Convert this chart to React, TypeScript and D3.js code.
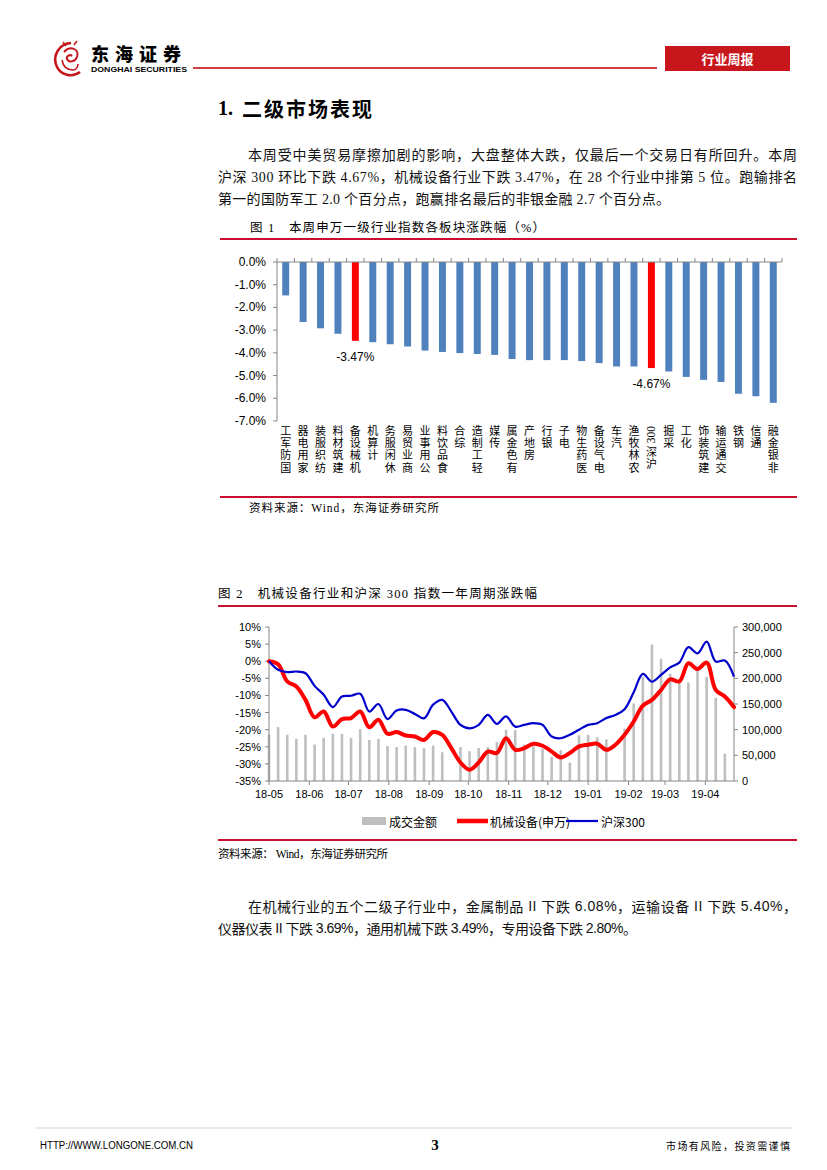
import React from 'react';
import * as d3 from 'd3';

// ---------------- Data: Figure 1 ----------------
const industries = [
  '国防军工', '家用电器', '纺织服装', '建筑材料', '机械设备', '计算机', '休闲服务', '商业贸易',
  '公用事业', '食品饮料', '综合', '轻工制造', '传媒', '有色金属', '房地产', '银行', '电子',
  '医药生物', '电气设备', '汽车', '农林牧渔', '沪深300', '采掘', '化工', '建筑装饰', '交通运输',
  '钢铁', '通信', '非银金融',
];
const industryChanges = [
  -1.47, -2.64, -2.92, -3.16, -3.47, -3.53, -3.62, -3.72, -3.9, -3.96, -4.01, -4.05, -4.09,
  -4.27, -4.32, -4.32, -4.32, -4.36, -4.45, -4.6, -4.6, -4.67, -4.82, -5.06, -5.19, -5.28,
  -5.8, -5.91, -6.2,
];
const highlightIndustries = ['机械设备', '沪深300'];
const pctTicks = [0, -1, -2, -3, -4, -5, -6, -7];

// ---------------- Data: Figure 2 (weekly, 2018-05-18 .. 2019-05-10) ----------------
const firstWeek = new Date(2018, 4, 18);
const turnover = [
  90, 105, 90, 82, 90, 71, 84, 92, 92, 84, 101, 80, 82, 68, 66, 69, 66, 64, 69, 56, null, 66,
  58, 64, 66, 76, 100, 99, 71, 68, 63, 47, 60, 36, 89, 90, 85, 81, null, 102, 151, 203, 266,
  238, 209, 193, 192, 219, 203, 162, 53, null,
].map((v) => (v == null ? null : v * 1000));
const machinery = [
  0, -0.9, -5.9, -7.4, -11.3, -16.4, -14.7, -19.1, -16.9, -16.6, -14.7, -19.3, -17.1, -21.2,
  -20.7, -21.7, -22.0, -23.0, -20.7, -21.5, -25.4, -29.6, -31.7, -29.6, -26.4, -26.8, -22.5,
  -25.9, -25.4, -24.1, -24.7, -26.4, -28.1, -26.8, -24.9, -24.4, -24.1, -25.9, -24.4, -21.5,
  -17.6, -13.0, -11.3, -8.4, -5.3, -5.9, -0.6, -2.3, -0.4, -8.4, -10.3, -13.4,
];
const csi300 = [
  0, -2.5, -3.2, -3.0, -3.5, -7.2, -9.8, -13.4, -10.3, -10.1, -9.5, -14.7, -12.5, -16.9, -14.4,
  -14.2, -15.4, -16.7, -12.7, -11.3, -14.7, -18.6, -19.6, -18.6, -15.7, -18.3, -16.1, -19.1,
  -18.6, -18.1, -18.6, -22.0, -22.5, -21.5, -20.0, -18.6, -18.1, -16.6, -15.7, -14.0, -9.1,
  -3.7, -6.0, -4.0, -1.8, -0.4, 4.1, 2.3, 5.7, -0.1, 0.2, -4.5,
];
const monthLabels = ['18-05', '18-06', '18-07', '18-08', '18-09', '18-10', '18-11', '18-12', '19-01', '19-02', '19-03', '19-04'];
const leftTicks = [10, 5, 0, -5, -10, -15, -20, -25, -30, -35];
const rightTicks = [0, 50000, 100000, 150000, 200000, 250000, 300000];
const legendNames = ['成交金额', '机械设备(申万)', '沪深300'];

// ---------------- Styles ----------------
const SANS = "'Liberation Sans', Arial, 'Noto Sans CJK SC', sans-serif";
const SERIF = "'Liberation Serif', 'Times New Roman', 'Noto Sans CJK SC', serif";
const CJK = "'Noto Sans CJK SC', 'Liberation Sans', sans-serif";
const RED_RULE = '#C8102E';
const BAR_BLUE = '#4F81BD';
const AXIS = '#868686';

function tokenize(s: string): string[] {
  const out: string[] = [];
  let buf = '';
  for (const ch of s) {
    if (/[\x00-\x7F]/.test(ch)) buf += ch;
    else {
      if (buf) { out.push(buf); buf = ''; }
      out.push(ch);
    }
  }
  if (buf) out.push(buf);
  return out;
}

function Figure1() {
  const x = d3.scaleBand<string>().domain(industries).range([277, 782]);
  const y = d3.scaleLinear().domain([-7, 0]).range([421, 262]);
  const bw = x.bandwidth() * 0.4;
  const labelTop = 425;
  return (
    <g>
      {industries.map((c, i) => {
        const v = industryChanges[i];
        const hi = highlightIndustries.includes(c);
        return (
          <rect key={c} x={x(c)! + (x.bandwidth() - bw) / 2} y={y(0)} width={bw} height={y(v) - y(0)}
            fill={hi ? '#FF0000' : BAR_BLUE} />
        );
      })}
      {industries.map((c, i) => highlightIndustries.includes(c) ? (
        <text key={'l' + c} x={x(c)! + x.bandwidth() / 2} y={y(industryChanges[i]) + 16} fontFamily={SANS}
          fontSize={12} textAnchor="middle" dominantBaseline="central">{industryChanges[i].toFixed(2)}%</text>
      ) : null)}
      <line x1={277} x2={277} y1={262} y2={421} stroke={AXIS} strokeWidth={1} />
      {pctTicks.map((t) => (
        <g key={t}>
          <line x1={273} x2={277} y1={y(t)} y2={y(t)} stroke={AXIS} />
          <text x={266} y={y(t)} fontFamily={SANS} fontSize={12} textAnchor="end" dominantBaseline="central">
            {t.toFixed(1)}%
          </text>
        </g>
      ))}
      <line x1={277} x2={782} y1={262} y2={262} stroke={AXIS} strokeWidth={1} />
      {[...industries.map((c) => x(c)!), 782].map((px, i) => (
        <line key={i} x1={px} x2={px} y1={258} y2={262} stroke={AXIS} />
      ))}
      {industries.map((c) => {
        const cx = x(c)! + x.bandwidth() / 2;
        const toks = tokenize(c).reverse();
        // leading (topmost) Latin run is rotated to read bottom-to-top; CJK stacked upright below it
        let cur = labelTop;
        const parts: JSX.Element[] = [];
        let cjkRun = '';
        toks.forEach((t, k) => {
          if (t.length === 1 && !/[\x00-\x7F]/.test(t)) {
            cjkRun += t;
          } else {
            const len = t.length * 6 + 1;
            parts.push(
              <text key={'a' + k} x={0} y={0} transform={`translate(${cx},${cur + len / 2}) rotate(-90)`} fontFamily={SERIF}
                fontSize={11.5} textAnchor="middle" dominantBaseline="central">{t}</text>
            );
            cur += len + 2;
          }
        });
        if (cjkRun) {
          parts.push(
            <text key="cjk" x={cx} y={cur} fontFamily={CJK} fontSize={11} letterSpacing={1.4}
              style={{ writingMode: 'vertical-rl' }}>{cjkRun}</text>
          );
        }
        return <g key={'c' + c}>{parts}</g>;
      })}
    </g>
  );
}

function Figure2() {
  const dates = machinery.map((_, i) => d3.timeDay.offset(firstWeek, 7 * i));
  const x = d3.scaleTime().domain([dates[0], dates[dates.length - 1]]).range([269, 734]);
  const yL = d3.scaleLinear().domain([-35, 10]).range([781, 627]);
  const yR = d3.scaleLinear().domain([0, 300000]).range([781, 627]);
  const monthDates = monthLabels.map((l) => new Date(2000 + +l.slice(0, 2), +l.slice(3) - 1, 18));
  const line = d3.line<number>()
    .x((_, i) => x(dates[i]))
    .y((v) => yL(v))
    .curve(d3.curveCatmullRom.alpha(0.5));
  const fmt = d3.format(',');
  return (
    <g>
      {turnover.map((v, i) => v == null ? null : (
        <rect key={i} x={x(dates[i]) - 1.3} y={yR(v)} width={2.6} height={yR(0) - yR(v)} fill="#BFBFBF" />
      ))}
      <line x1={269} x2={269} y1={627} y2={781} stroke={AXIS} />
      <line x1={734} x2={734} y1={627} y2={781} stroke={AXIS} />
      <line x1={269} x2={734} y1={781} y2={781} stroke={AXIS} />
      {leftTicks.map((t) => (
        <g key={'lt' + t}>
          <line x1={265} x2={269} y1={yL(t)} y2={yL(t)} stroke={AXIS} />
          <text x={261} y={yL(t)} fontFamily={SANS} fontSize={11} textAnchor="end" dominantBaseline="central">{t}%</text>
        </g>
      ))}
      {rightTicks.map((t) => (
        <g key={'rt' + t}>
          <line x1={734} x2={738} y1={yR(t)} y2={yR(t)} stroke={AXIS} />
          <text x={742} y={yR(t)} fontFamily={SANS} fontSize={11} textAnchor="start" dominantBaseline="central">{fmt(t)}</text>
        </g>
      ))}
      {monthDates.map((d, i) => (
        <g key={'m' + i}>
          <line x1={x(d)} x2={x(d)} y1={781} y2={785} stroke={AXIS} />
          <text x={x(d)} y={794} fontFamily={SANS} fontSize={11} textAnchor="middle" dominantBaseline="central">{monthLabels[i]}</text>
        </g>
      ))}
      <path d={line(machinery)!} fill="none" stroke="#FF0000" strokeWidth={4} strokeLinejoin="round" strokeLinecap="round" />
      <path d={line(csi300)!} fill="none" stroke="#0000CC" strokeWidth={2.2} strokeLinejoin="round" />
      <rect x={362} y={817} width={24} height={8} fill="#BFBFBF" />
      <text x={389} y={821} fontFamily={CJK} fontSize={12} dominantBaseline="central">{legendNames[0]}</text>
      <line x1={457} x2={488} y1={821} y2={821} stroke="#FF0000" strokeWidth={4.5} />
      <text x={490} y={821} fontFamily={CJK} fontSize={12} dominantBaseline="central">{legendNames[1]}</text>
      <line x1={566} x2={598} y1={821} y2={821} stroke="#0000CC" strokeWidth={2.2} />
      <text x={601} y={821} fontFamily={CJK} fontSize={12} dominantBaseline="central">{legendNames[2]}</text>
    </g>
  );
}

function Logo() {
  return (
    <g>
      <path d="M 71 43 C 58 44, 52 57, 57 67 C 61 75, 72 78, 80 72" fill="none" stroke="#C4161C" strokeWidth={2.6} />
      <path d="M 64 52 C 70 45, 80 49, 77 57 C 75 62, 69 63, 67 59 C 66 56, 70 54, 72 56" fill="none" stroke="#C4161C" strokeWidth={2} />
      <path d="M 62 60 C 63 66, 67 70, 73 70 C 76 70, 78 67, 78 64" fill="none" stroke="#C4161C" strokeWidth={1.6} />
      <path d="M 66 46 L 63 42 M 74 45 L 77 41" stroke="#C4161C" strokeWidth={1.5} />
      <text x={91} y={53} fontFamily={CJK} fontWeight={900} fontSize={18} letterSpacing={6} dominantBaseline="central">东海证券</text>
      <text x={91} y={69.5} fontFamily={SANS} fontWeight={700} fontSize={7} textLength={96} lengthAdjust="spacingAndGlyphs" dominantBaseline="central">DONGHAI SECURITIES</text>
    </g>
  );
}

export default function App() {
  return (
    <svg width={827} height={1170} viewBox="0 0 827 1170" style={{ position: 'absolute', left: 0, top: 0, background: '#fff' }}>
      <rect width={827} height={1170} fill="#fff" />
      <Logo />
      <line x1={193} x2={657} y1={68} y2={68} stroke="#C00000" strokeWidth={1.3} />
      <rect x={665} y={46} width={125} height={25} fill="#C8161D" />
      <text x={727.5} y={58.5} fill="#fff" fontFamily={CJK} fontWeight={700} fontSize={13} textAnchor="middle" dominantBaseline="central">行业周报</text>

      <text x={218} y={108} fontFamily={SERIF} fontWeight={700} fontSize={20} dominantBaseline="central">
        1.<tspan dx={9} fontFamily={CJK} fontWeight={700} letterSpacing={2}>二级市场表现</tspan>
      </text>

      <g fontFamily={SERIF} fontSize={14} fill="#111">
        <text x={248} y={155} textLength={549} lengthAdjust="spacing" dominantBaseline="central">本周受中美贸易摩擦加剧的影响，大盘整体大跌，仅最后一个交易日有所回升。本周</text>
        <text x={218} y={177} textLength={579} lengthAdjust="spacing" dominantBaseline="central">沪深 300 环比下跌 4.67%，机械设备行业下跌 3.47%，在 28 个行业中排第 5 位。跑输排名</text>
        <text x={218} y={199} textLength={452} lengthAdjust="spacing" dominantBaseline="central">第一的国防军工 2.0 个百分点，跑赢排名最后的非银金融 2.7 个百分点。</text>
      </g>

      <text x={250} y={228} fontFamily={SERIF} fontSize={12.5} textLength={295} lengthAdjust="spacing" dominantBaseline="central">图 1　本周申万一级行业指数各板块涨跌幅（%）</text>
      <line x1={220} x2={797} y1={239} y2={239} stroke={RED_RULE} strokeWidth={2.2} />
      <Figure1 />
      <line x1={220} x2={797} y1={497} y2={497} stroke={RED_RULE} strokeWidth={2.2} />
      <text x={249} y={508} fontFamily={SERIF} fontSize={11.5} textLength={190} lengthAdjust="spacing" dominantBaseline="central">资料来源：Wind，东海证券研究所</text>

      <text x={218} y={594} fontFamily={SERIF} fontSize={12.5} textLength={319} lengthAdjust="spacing" dominantBaseline="central">图 2　机械设备行业和沪深 300 指数一年周期涨跌幅</text>
      <line x1={218} x2={797} y1={606} y2={606} stroke={RED_RULE} strokeWidth={2.2} />
      <Figure2 />
      <line x1={218} x2={797} y1={840} y2={840} stroke={RED_RULE} strokeWidth={2.2} />
      <text x={218} y={854} fontFamily={SERIF} fontSize={11.5} textLength={170} lengthAdjust="spacing" dominantBaseline="central">资料来源：  Wind，东海证券研究所</text>

      <g fontSize={14} fill="#111">
        <text x={248} y={906} textLength={549} lengthAdjust="spacing" dominantBaseline="central" fontFamily={CJK}>
          在机械行业的五个二级子行业中，金属制品<tspan fontFamily={SANS}> II </tspan>下跌<tspan fontFamily={SANS}> 6.08%</tspan>，运输设备<tspan fontFamily={SANS}> II </tspan>下跌<tspan fontFamily={SANS}> 5.40%</tspan>，
        </text>
        <text x={218} y={928} textLength={419} lengthAdjust="spacing" dominantBaseline="central" fontFamily={CJK}>
          仪器仪表<tspan fontFamily={SANS}> II </tspan>下跌<tspan fontFamily={SANS}> 3.69%</tspan>，通用机械下跌<tspan fontFamily={SANS}> 3.49%</tspan>，专用设备下跌<tspan fontFamily={SANS}> 2.80%</tspan>。
        </text>
      </g>

      <line x1={35} x2={792} y1={1128} y2={1128} stroke="#BBBBBB" strokeWidth={0.6} />
      <text x={40} y={1145} fontFamily={SANS} fontSize={10} textLength={153} lengthAdjust="spacingAndGlyphs" dominantBaseline="central">HTTP://WWW.LONGONE.COM.CN</text>
      <text x={435} y={1145} fontFamily={SERIF} fontWeight={700} fontSize={15} textAnchor="middle" dominantBaseline="central">3</text>
      <text x={666} y={1145} fontFamily={CJK} fontSize={10} textLength={124} lengthAdjust="spacing" dominantBaseline="central">市场有风险，投资需谨慎</text>
    </svg>
  );
}
